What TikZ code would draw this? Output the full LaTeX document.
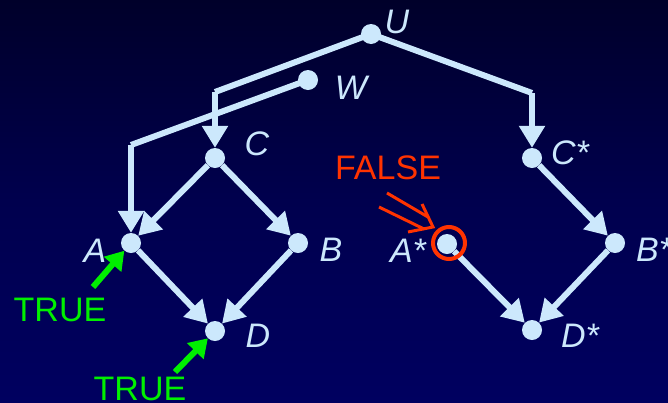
\documentclass[tikz,border=0pt]{standalone}
\usepackage{fontspec}
\setmainfont{Liberation Sans}
\usetikzlibrary{arrows.meta}
\definecolor{bgtop}{RGB}{0,0,42}
\definecolor{bgmid}{RGB}{0,0,78}
\definecolor{bgbot}{RGB}{0,0,96}
\definecolor{edgecol}{RGB}{204,232,252}
\definecolor{truegreen}{RGB}{0,240,0}
\definecolor{falsered}{RGB}{255,51,0}
\begin{document}
\begin{tikzpicture}[x=1pt,y=-1pt,
  dot/.style={circle,fill=edgecol,minimum size=20pt,inner sep=0pt},
  lbl/.style={text=edgecol,font=\fontsize{34}{40}\selectfont\itshape,inner sep=0pt},
  verdict/.style={font=\fontsize{34}{40}\selectfont,inner sep=0pt},
  link/.style={draw=edgecol,line width=6pt,-{Triangle[length=22pt,width=25pt]}},
  plain/.style={draw=edgecol,line width=6pt},
  greenarrow/.style={draw=truegreen,line width=6pt,-{Triangle[length=18pt,width=22pt]}},
  ring/.style={circle,draw=falsered,line width=4pt,minimum size=32pt,inner sep=0pt},
  redstroke/.style={draw=falsered,line width=3pt,line cap=butt}
]
\fill[top color=bgtop,bottom color=bgbot,middle color=bgmid] (0,0) rectangle (668,402);
\useasboundingbox (0,0) rectangle (668,402);

% nodes
\node[dot] (U) at (371,34) {};
\node[dot] (W) at (308,80) {};
\node[dot] (C) at (215,158) {};
\node[dot] (A) at (131,243) {};
\node[dot] (B) at (298,243) {};
\node[dot] (D) at (215,331) {};
\node[dot] (Cs) at (532,158) {};
\node[dot] (As) at (447,244) {};
\node[dot] (Bs) at (615,243) {};
\node[dot] (Ds) at (532,330) {};

% bends
\coordinate (bUC) at (215,92);
\coordinate (bUCs) at (532,93);
\coordinate (bWA) at (131,145);

% labels
\node[lbl] (lU) at (397,22) {U};
\node[lbl] (lW) at (351,88) {W};
\node[lbl] (lC) at (257,144) {C};
\node[lbl] (lA) at (95,251) {A};
\node[lbl] (lB) at (331,250) {B};
\node[lbl] (lD) at (258,336) {D};
\node[lbl] (lCs) at (570,153) {C*};
\node[lbl] (lAs) at (408,251) {A*};
\node[lbl,anchor=west] (lBs) at (636,250) {B*};
\node[lbl] (lDs) at (580,336) {D*};

% connectors
\draw[plain] (U.center) -- (bUC);
\draw[link] (bUC) -- (C);
\draw[plain] (U.center) -- (bUCs);
\draw[link] (bUCs) -- (Cs);
\draw[plain] (W.center) -- (bWA);
\draw[link] (bWA) -- (A);
\draw[link] (C) -- (A);
\draw[link] (C) -- (B);
\draw[link] (A) -- (D);
\draw[link] (B) -- (D);
\draw[link] (Cs) -- (Bs);
\draw[link] (As) -- (Ds);
\draw[link] (Bs) -- (Ds);

% TRUE annotations
\node[verdict,text=truegreen] (t1) at (60,310) {TRUE};
\node[verdict,text=truegreen] (t2) at (140,389) {TRUE};
\coordinate (g1) at (93,287);
\coordinate (g2) at (175,372);
\draw[greenarrow] (g1) -- (A);
\draw[greenarrow] (g2) -- (D);

% FALSE annotation
\node[ring] (rg) at (449,243) {};
\node[verdict,text=falsered] (f) at (388,168) {FALSE};
\coordinate (fu1) at (387,193);
\coordinate (fu2) at (428,217);
\coordinate (fl1) at (379,207);
\coordinate (fl2) at (424,229);
\coordinate (ftip) at (433,227);
\coordinate (fa1) at (422,204);
\coordinate (fa2) at (408,232);
\draw[redstroke] (fu1) -- (fu2);
\draw[redstroke] (fl1) -- (fl2);
\draw[redstroke,line join=miter] (fa1) -- (ftip) -- (fa2);
\end{tikzpicture}
\end{document}
